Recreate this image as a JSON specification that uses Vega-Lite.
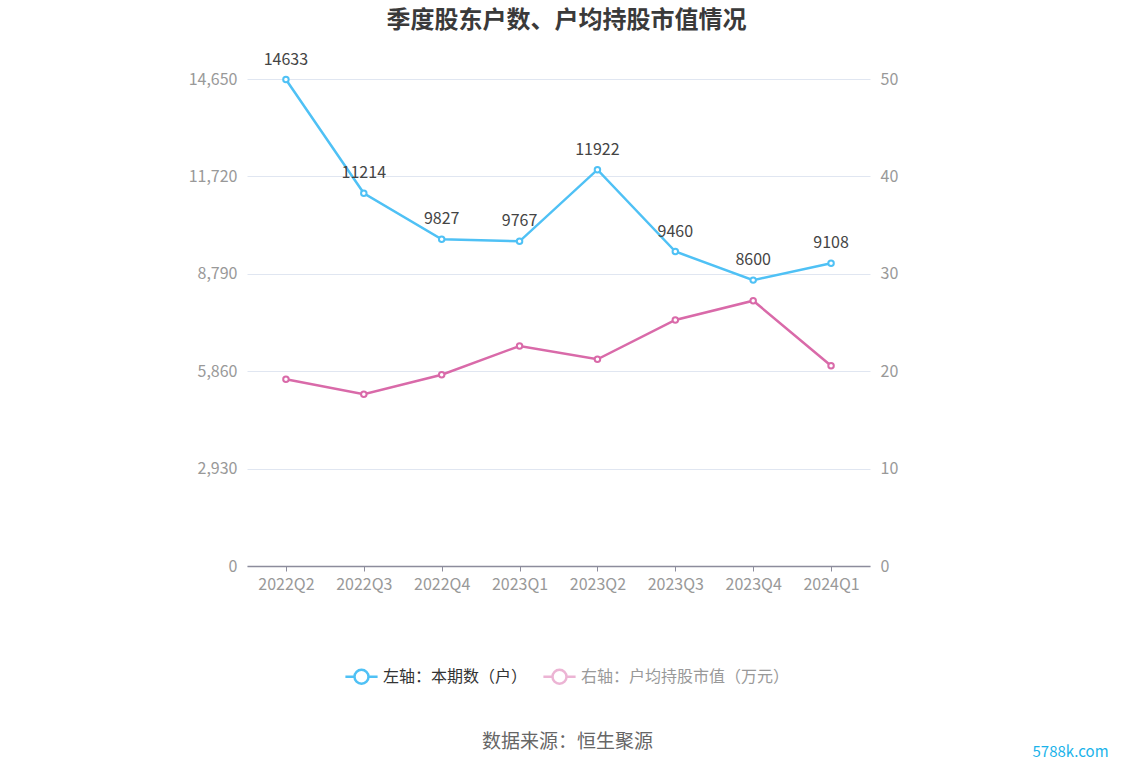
{
  "$schema": "https://vega.github.io/schema/vega-lite/v6.json",
  "width": 623,
  "height": 487,
  "autosize": {"type": "none"},
  "padding": {"left": 247, "top": 79, "right": 264, "bottom": 200},
  "background": "white",
  "title": {"text": "季度股东户数、户均持股市值情况", "fontSize": 24, "fontWeight": "bold", "color": "#3a3a3a", "anchor": "middle", "dx": 8, "offset": 19},
  "data": {"values": [
    {"q": "2022Q2", "holders": 14633, "value": 19.17},
    {"q": "2022Q3", "holders": 11214, "value": 17.63},
    {"q": "2022Q4", "holders": 9827, "value": 19.64},
    {"q": "2023Q1", "holders": 9767, "value": 22.59},
    {"q": "2023Q2", "holders": 11922, "value": 21.22},
    {"q": "2023Q3", "holders": 9460, "value": 25.26},
    {"q": "2023Q4", "holders": 8600, "value": 27.24},
    {"q": "2024Q1", "holders": 9108, "value": 20.56}
  ]},
  "encoding": {
    "x": {"field": "q", "type": "ordinal", "sort": null, "scale": {"type": "point", "padding": 0.5},
      "axis": {"labelAngle": 0, "labelColor": "#999999", "labelFontSize": 16, "labelPadding": 5,
        "domainColor": "#8c8c9c", "domainWidth": 1.5, "tickColor": "#8c8c9c", "tickSize": 5, "grid": false,
        "title": "数据来源：恒生聚源", "titleFontSize": 19, "titleFontWeight": "normal", "titleColor": "#666666",
        "titleX": 320, "titleY": 175, "titleAlign": "center", "titleBaseline": "middle"}}
  },
  "layer": [
    {
      "encoding": {
        "y": {"field": "holders", "type": "quantitative", "scale": {"domain": [0, 14650], "nice": false},
          "axis": {"values": [0, 2930, 5860, 8790, 11720, 14650], "format": ",d", "labelColor": "#999999", "labelFontSize": 16,
            "labelPadding": 10, "domain": false, "ticks": false, "gridColor": "#e0e6f1", "gridWidth": 1, "title": null}}
      },
      "layer": [
        {"mark": {"type": "line", "strokeWidth": 2.5}, "encoding": {"color": {"datum": "左轴：本期数（户）",
          "legend": {"encode": {
            "labels": {"update": {"fill": {"signal": "datum.value === '左轴：本期数（户）' ? '#333333' : '#999999'"}}},
            "symbols": {"update": {"fill": {"value": "white"}, "strokeOpacity": {"signal": "datum.value === '左轴：本期数（户）' ? 1 : 0.5"}}}
          }}}}},
        {"mark": {"type": "point", "filled": false, "fill": "white", "stroke": "#4fc1f5", "size": 30, "strokeWidth": 2, "opacity": 1}},
        {"mark": {"type": "text", "fontSize": 16, "color": "#444444", "baseline": "middle", "dy": -20}, "encoding": {"text": {"field": "holders", "type": "quantitative", "format": "d"}}}
      ]
    },
    {
      "encoding": {
        "y": {"field": "value", "type": "quantitative", "scale": {"domain": [0, 50], "nice": false},
          "axis": {"orient": "right", "values": [0, 10, 20, 30, 40, 50], "labelColor": "#999999", "labelFontSize": 16,
            "labelPadding": 10, "domain": false, "ticks": false, "grid": false,
            "title": "5788k.com", "titleAngle": 0, "titleX": 200, "titleY": 672, "titleAlign": "center", "titleBaseline": "middle",
            "titleFontSize": 15, "titleFontWeight": "normal", "titleColor": "#1bb3ea"}}
      },
      "layer": [
        {"mark": {"type": "line", "strokeWidth": 2.5}, "encoding": {"color": {"datum": "右轴：户均持股市值（万元）"}}},
        {"mark": {"type": "point", "filled": false, "fill": "white", "stroke": "#d96aa9", "size": 30, "strokeWidth": 2, "opacity": 1}}
      ]
    }
  ],
  "resolve": {"scale": {"y": "independent"}},
  "config": {
    "font": "Noto Sans CJK SC",
    "view": {"stroke": null},
    "range": {"category": ["#4fc1f5", "#d96aa9"]},
    "legend": {
      "orient": "none", "legendX": 106, "legendY": 589, "direction": "horizontal", "title": null,
      "symbolType": "M-2.3,0L-1,0M1,0L2.3,0M1,0A1,1,0,1,1,-1,0A1,1,0,1,1,1,0",
      "symbolSize": 196, "symbolStrokeWidth": 2.5, "labelFontSize": 16, "labelOffset": 13, "columnPadding": 10,
      "labelLimit": 400,
      "labelColor": "#333333"
    }
  }
}
